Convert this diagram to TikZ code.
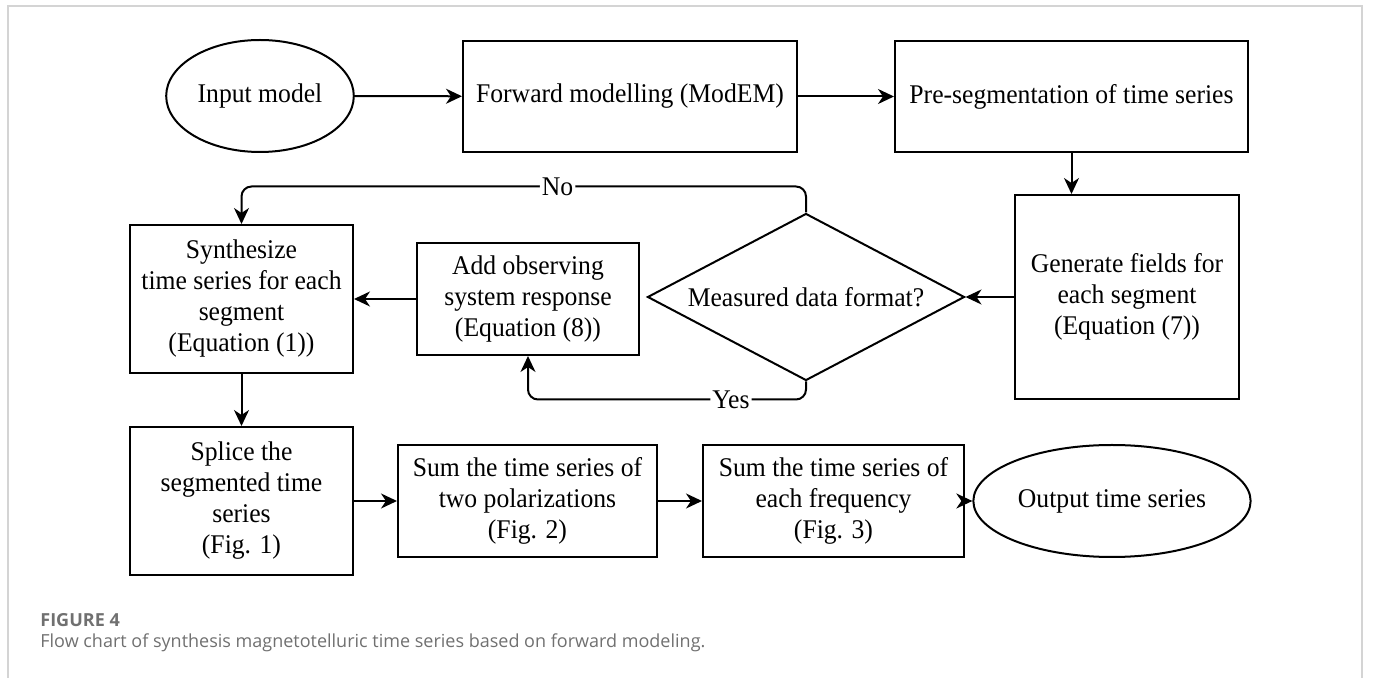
\documentclass[tikz,border=0pt]{standalone}
\usepackage{fontspec}
\setmainfont{Liberation Serif}[FakeStretch=0.95]
\newfontfamily\capfont{Open Sans}
\usepackage{xcolor}
\usepackage{tikz}
\usetikzlibrary{positioning,arrows.meta,shapes.geometric}

\definecolor{capgray}{HTML}{707070}
\definecolor{framegray}{HTML}{D4D4D4}

\begin{document}
\begin{tikzpicture}[x=0.5pt, y=-0.5pt,
    proc/.style   ={draw, line width=1pt, inner sep=2pt, align=center,
                    font=\fontsize{13.5}{15.5}\selectfont},
    oval/.style   ={proc, ellipse},               % start / end
    cond/.style   ={proc, diamond, aspect=1.9, inner sep=0pt},
    arr/.style    ={-{Stealth[length=8pt, width=7.5pt, inset=2.5pt]}, line width=1pt},
    loopb/.style  ={arr, rounded corners=5pt},
    lab/.style    ={fill=white, inner sep=1pt, font=\fontsize{13.5}{15.5}\selectfont},
    frame/.style  ={draw=framegray, line width=1pt},
    captxt/.style ={anchor=west, inner sep=0pt, text=capgray}
  ]
    \useasboundingbox (0,0) rectangle (1373,678);
    \draw[frame] (8,678) -- (8,6) -- (1362,6) -- (1362,678);

    % --- top row ---
    \node[oval, minimum width=93pt, minimum height=56pt] (inp) at (260,96) {Input model};
    \node[proc, minimum width=167pt, minimum height=55.5pt] (fwd) at (630,96.5) {Forward modelling (ModEM)};
    \node[proc, minimum width=176.5pt, minimum height=55.5pt] (pre) at (1071.5,96.5) {Pre-segmentation of time series};

    % --- middle row ---
    \node[proc, minimum width=112pt, minimum height=102pt] (gen) at (1127,297)
      {Generate fields for\\each segment\\(Equation (7))};
    \node[cond, minimum width=158.5pt, minimum height=83.5pt] (meas) at (806,297) {Measured data format?};
    \node[proc, minimum width=111pt, minimum height=56pt] (addr) at (528,299)
      {Add observing\\system response\\(Equation (8))};
    \node[proc, minimum width=111.5pt, minimum height=74pt] (syn) at (241.5,299)
      {Synthesize\\time series for each\\segment\\(Equation (1))};

    % --- bottom row ---
    \node[proc, minimum width=111.5pt, minimum height=74pt] (spl) at (241.5,501)
      {Splice the\\segmented time\\series\\(Fig. 1)};
    \node[proc, minimum width=129.5pt, minimum height=56pt] (sumpol) at (527.5,501)
      {Sum the time series of\\two polarizations\\(Fig. 2)};
    \node[proc, minimum width=130.5pt, minimum height=56pt] (sumfrq) at (833.5,501)
      {Sum the time series of\\each frequency\\(Fig. 3)};
    \node[oval, minimum width=111pt, minimum height=56pt] (outp) at (1112,501) {Output time series};

    % --- connectors ---
    \draw[arr] (inp) -- (fwd);
    \draw[arr] (fwd) -- (pre);
    \draw[arr] (pre.south) -- (pre.south |- gen.north);
    \draw[arr] (gen.west) -- (meas.east);
    \draw[arr] (addr) -- (syn);
    \draw[loopb] (meas.north) -- ++(0,-26) -| node[lab, pos=0.22]{No} (syn.north);
    \draw[loopb] (meas.south) -- ++(0,18) -| node[lab, pos=0.135]{Yes} (addr.south);
    \draw[arr] (syn) -- (spl);
    \draw[arr] (spl) -- (sumpol);
    \draw[arr] (sumpol) -- (sumfrq);
    \draw[arr] (sumfrq) -- (outp);

    % --- caption ---
    \node[captxt, font=\capfont\bfseries\fontsize{9}{11}\selectfont] (fig) at (40,620) {FIGURE 4};
    \node[captxt, font=\capfont\fontsize{9}{11}\selectfont] (cap) at (40,643)
      {Flow chart of synthesis magnetotelluric time series based on forward modeling.};
\end{tikzpicture}
\end{document}
